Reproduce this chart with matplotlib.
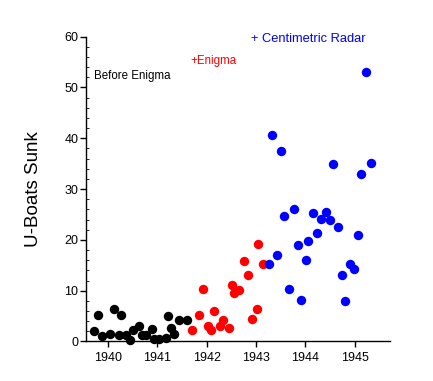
import matplotlib
matplotlib.use("Agg")
import matplotlib.pyplot as plt
from matplotlib.ticker import MultipleLocator

plt.rcParams['font.family'] = ['Liberation Sans', 'DejaVu Sans']

# months before Enigma was read
before_x = [1939.73, 1939.81, 1939.88, 1940.05, 1940.12, 1940.23, 1940.27, 1940.36,
            1940.45, 1940.52, 1940.63, 1940.69, 1940.77, 1940.89, 1940.94, 1941.04,
            1941.17, 1941.22, 1941.27, 1941.34, 1941.44, 1941.60]
before_y = [2.1, 5.3, 1.0, 1.4, 6.3, 1.3, 5.2, 1.3,
            0.2, 2.3, 3.0, 1.3, 1.3, 2.4, 0.5, 0.4,
            0.7, 5.1, 2.6, 1.5, 4.2, 4.2]

# with Enigma
enigma_x = [1941.70, 1941.85, 1941.93, 1942.03, 1942.09, 1942.15, 1942.27, 1942.34,
            1942.45, 1942.52, 1942.56, 1942.66, 1942.76, 1942.84, 1942.91, 1943.02,
            1943.04, 1943.15]
enigma_y = [2.3, 5.2, 10.3, 3.1, 2.3, 6.0, 3.0, 4.3,
            2.7, 11.1, 9.5, 10.2, 15.8, 13.0, 4.4, 6.3,
            19.1, 15.3]

# with centimetric radar
radar_x = [1943.27, 1943.33, 1943.42, 1943.50, 1943.57, 1943.66, 1943.77, 1943.84,
           1943.90, 1944.01, 1944.05, 1944.16, 1944.23, 1944.32, 1944.41, 1944.49,
           1944.55, 1944.65, 1944.74, 1944.80, 1944.90, 1944.98, 1945.07, 1945.13,
           1945.22, 1945.32]
radar_y = [15.2, 40.7, 17.0, 37.4, 24.8, 10.4, 26.1, 18.9,
           8.2, 16.0, 19.8, 25.3, 21.3, 24.1, 25.4, 23.9,
           34.9, 22.5, 13.0, 8.0, 15.2, 14.3, 20.9, 33.0,
           53.0, 35.2]

years = [1940, 1941, 1942, 1943, 1944, 1945]

fig = plt.figure(figsize=(4.33, 3.81), dpi=100)
ax = fig.add_axes([0.1986, 0.1037, 0.7021, 0.8])

ax.scatter(before_x, before_y, s=46, color='black', clip_on=False, zorder=3, linewidths=0)
ax.scatter(enigma_x, enigma_y, s=46, color='#ff0000', clip_on=False, zorder=3, linewidths=0)
ax.scatter(radar_x, radar_y, s=46, color='#0000ff', clip_on=False, zorder=3, linewidths=0)

ax.set_xlim(1939.56, 1945.71)
ax.set_ylim(0, 60)
ax.set_xticks(years)
ax.set_xticklabels([str(y) for y in years])
ax.yaxis.set_major_locator(MultipleLocator(10))
ax.yaxis.set_minor_locator(MultipleLocator(2))

ax.spines['top'].set_visible(False)
ax.spines['right'].set_visible(False)
ax.spines['left'].set_linewidth(1.0)
ax.spines['bottom'].set_linewidth(1.0)
ax.tick_params(axis='both', which='major', direction='out', length=4, width=1,
               labelsize=9, colors='black')
ax.tick_params(axis='y', which='major', pad=1.5)
ax.tick_params(axis='y', which='minor', direction='in', length=2, width=0.6)

ax.set_ylabel('U-Boats Sunk', fontsize=13.5, labelpad=16)

ax.text(1939.72, 52.3, 'Before Enigma', fontsize=8.3, color='black', va='center')
ax.text(1941.68, 55.2, '+Enigma', fontsize=8.3, color='#ff0000', va='center')
ax.text(1942.90, 59.5, '+ Centimetric Radar', fontsize=9.3, color='#0000ff', va='center')

fig.savefig('out.png', dpi=100)
